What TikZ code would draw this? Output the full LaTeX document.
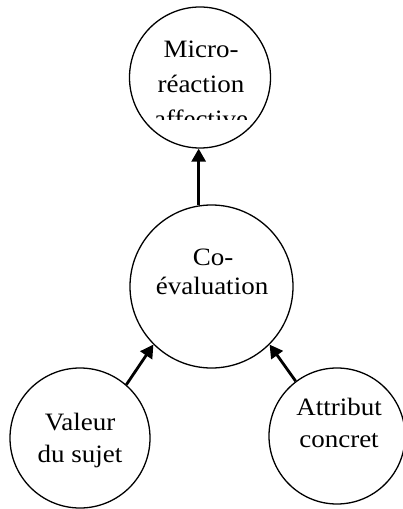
\documentclass[tikz,border=0pt]{standalone}
\usepackage{fontspec}
\setmainfont{Liberation Serif}[FakeStretch=1.08]
\usetikzlibrary{arrows.meta}
\begin{document}
\begin{tikzpicture}[x=1bp,y=-1bp,
  circ/.style={circle,draw,line width=1.3bp,inner sep=0pt,minimum size=#1},
  lbl/.style={anchor=base,inner sep=0pt,font=\fontsize{25bp}{29bp}\selectfont},
  arr/.style={line width=2.8bp,-{Triangle[length=13bp,width=14bp]}}]
\useasboundingbox (0,0) rectangle (402,509);
\node[circ=141bp] (mr) at (200,77.5) {};
\node[circ=163bp] (co) at (211.5,286.5) {};
\node[circ=140bp] (vs) at (80,438) {};
\node[circ=136bp] (ac) at (337,436) {};
% texts
\node[lbl] (mr1) at (201,58) {Micro-};
\node[lbl] (mr2) at (201,93) {réaction};
\begin{scope}
  \clip (120,0) rectangle (282,120);
  \node[lbl] (mr3) at (201,128) {affective};
\end{scope}
\node[lbl] (co1) at (213,265) {Co-};
\node[lbl] (co2) at (212,294) {évaluation};
\node[lbl] (vs1) at (80,430) {Valeur};
\node[lbl] (vs2) at (80,462) {du sujet};
\node[lbl] (ac1) at (339,415) {Attribut};
\node[lbl] (ac2) at (339,447) {concret};
% arrows
\draw[arr] (co.99.5) -- (co.99.5 |- mr.south);
\draw[arr] (vs.49.5) -- (co.225.5);
\draw[arr] (ac.127.7) -- (co.315.5);
\end{tikzpicture}
\end{document}
